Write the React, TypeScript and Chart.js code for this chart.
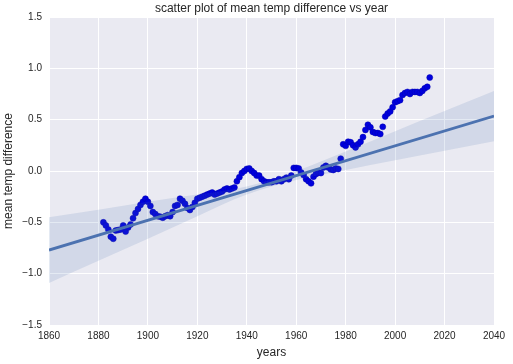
import React, { useEffect, useRef } from "react";
import { Chart, registerables } from "chart.js";

Chart.register(...registerables);

const startYear = 1882;
const meanTempDiff: number[] = [
  -0.50, -0.53, -0.57, -0.64, -0.66, -0.58, -0.575, -0.57, -0.53, -0.59,
  -0.55, -0.52, -0.46, -0.41, -0.37, -0.33, -0.30, -0.27, -0.30, -0.34,
  -0.40, -0.42, -0.44, -0.445, -0.455, -0.44, -0.43, -0.44, -0.40, -0.34,
  -0.33, -0.27, -0.29, -0.32, -0.36, -0.38, -0.35, -0.31, -0.27, -0.26,
  -0.25, -0.24, -0.23, -0.22, -0.21, -0.23, -0.22, -0.21, -0.20, -0.18,
  -0.17, -0.18, -0.17, -0.16, -0.10, -0.06, -0.02, 0.00, 0.02, 0.025,
  0.00, -0.02, -0.045, -0.045, -0.08, -0.10, -0.11, -0.11, -0.11, -0.10,
  -0.10, -0.08, -0.10, -0.08, -0.065, -0.08, -0.045, 0.03, 0.03, 0.025,
  -0.015, -0.04, -0.08, -0.10, -0.12, -0.055, -0.03, -0.015, -0.02, 0.035,
  0.05, 0.035, 0.015, 0.01, 0.025, 0.02, 0.12, 0.26, 0.245, 0.285,
  0.28, 0.25, 0.23, 0.26, 0.285, 0.33, 0.40, 0.45, 0.425, 0.38,
  0.37, 0.37, 0.36, 0.43, 0.53, 0.56, 0.58, 0.62, 0.67, 0.68,
  0.69, 0.74, 0.76, 0.77, 0.75, 0.77, 0.77, 0.77, 0.76, 0.78,
  0.805, 0.82, 0.91,
];
const years: number[] = meanTempDiff.map((_, i) => startYear + i);

const fitYears: number[] = [1860, 2040];
const fitValues: number[] = [-0.77, 0.536];

const bandYears: number[] = [1860, 1880, 1900, 1920, 1940, 1960, 1980, 2000, 2020, 2040];
const bandUpper: number[] = [-0.45, -0.377, -0.30, -0.23, -0.15, 0.0, 0.19, 0.387, 0.584, 0.78];
const bandLower: number[] = [-1.09, -0.873, -0.66, -0.44, -0.23, -0.088, 0.01, 0.105, 0.198, 0.29];

const xTicks: number[] = [1860, 1880, 1900, 1920, 1940, 1960, 1980, 2000, 2020, 2040];
const yTicks: number[] = [-1.5, -1.0, -0.5, 0.0, 0.5, 1.0, 1.5];

const chartTitle = "scatter plot of mean temp difference vs year";

const FONT = "'Liberation Sans', Arial, sans-serif";
const TEXT = "#262626";

const bgPlugin = {
  id: "bgPlugin",
  beforeDraw(chart: any) {
    const { ctx, chartArea } = chart;
    ctx.save();
    ctx.fillStyle = "#eaeaf2";
    ctx.fillRect(chartArea.left, chartArea.top, chartArea.right - chartArea.left, chartArea.bottom - chartArea.top);
    ctx.restore();
  },
  afterDraw(chart: any) {
    const { ctx, chartArea } = chart;
    ctx.save();
    ctx.fillStyle = TEXT;
    ctx.font = `12px ${FONT}`;
    ctx.textAlign = "center";
    ctx.textBaseline = "middle";
    ctx.fillText(chartTitle, (chartArea.left + chartArea.right) / 2, 9);
    ctx.restore();
  },
};

export default function App() {
  const ref = useRef<HTMLCanvasElement>(null);
  useEffect(() => {
    if (!ref.current) return;
    const chart = new Chart(ref.current, {
      type: "scatter",
      data: {
        datasets: [
          {
            type: "line",
            label: "ci upper",
            data: bandYears.map((x, i) => ({ x, y: bandUpper[i] })),
            borderWidth: 0,
            borderColor: "rgba(0,0,0,0)",
            pointRadius: 0,
            cubicInterpolationMode: "monotone",
            fill: "+1",
            backgroundColor: "rgba(76,114,176,0.15)",
            order: 2,
          } as any,
          {
            type: "line",
            label: "ci lower",
            data: bandYears.map((x, i) => ({ x, y: bandLower[i] })),
            borderWidth: 0,
            borderColor: "rgba(0,0,0,0)",
            pointRadius: 0,
            cubicInterpolationMode: "monotone",
            fill: false,
            order: 3,
          } as any,
          {
            type: "line",
            label: "fit",
            data: fitYears.map((x, i) => ({ x, y: fitValues[i] })),
            borderColor: "#4c72b0",
            borderWidth: 2.8,
            pointRadius: 0,
            fill: false,
            order: 1,
          } as any,
          {
            type: "scatter",
            label: "mean temp difference",
            data: years.map((x, i) => ({ x, y: meanTempDiff[i] })),
            backgroundColor: "#0000dd",
            borderColor: "#0000b0",
            borderWidth: 0.5,
            pointRadius: 3,
            order: 4,
          } as any,
        ],
      },
      options: {
        animation: false,
        responsive: false,
        maintainAspectRatio: false,
        layout: { padding: { left: 0, right: 19, top: 17, bottom: 0 } },
        plugins: {
          legend: { display: false },
          tooltip: { enabled: false },
          title: { display: false },
        },
        scales: {
          x: {
            type: "linear",
            min: 1860,
            max: 2040,
            afterBuildTicks: (s: any) => {
              s.ticks = xTicks.map((v) => ({ value: v }));
            },
            afterFit: (s: any) => {
              s.height = 39;
            },
            ticks: {
              color: TEXT,
              font: { family: FONT, size: 10 },
              padding: 5,
              maxRotation: 0,
              callback: (v: any) => String(v),
            },
            grid: { color: "#ffffff", lineWidth: 1, drawTicks: false },
            border: { display: false },
            title: {
              display: true,
              text: "years",
              color: TEXT,
              font: { family: FONT, size: 12 },
              padding: { top: 0, bottom: 4 },
            },
          },
          y: {
            type: "linear",
            min: -1.5,
            max: 1.5,
            afterBuildTicks: (s: any) => {
              s.ticks = yTicks.map((v) => ({ value: v }));
            },
            afterFit: (s: any) => {
              s.width = 49;
            },
            ticks: {
              color: TEXT,
              font: { family: FONT, size: 10 },
              padding: 7,
              callback: (v: any) => (v < 0 ? "\u2212" : "") + Math.abs(Number(v)).toFixed(1),
            },
            grid: { color: "#ffffff", lineWidth: 1, drawTicks: false },
            border: { display: false },
            title: {
              display: true,
              text: "mean temp difference",
              color: TEXT,
              font: { family: FONT, size: 12 },
              padding: { top: 1, bottom: 0 },
            },
          },
        },
      },
      plugins: [bgPlugin],
    });
    return () => chart.destroy();
  }, []);
  return (
    <div style={{ position: "fixed", left: 0, top: 0, width: 513, height: 364 }}>
      <canvas ref={ref} width={513} height={364} style={{ width: 513, height: 364, display: "block" }} />
    </div>
  );
}
